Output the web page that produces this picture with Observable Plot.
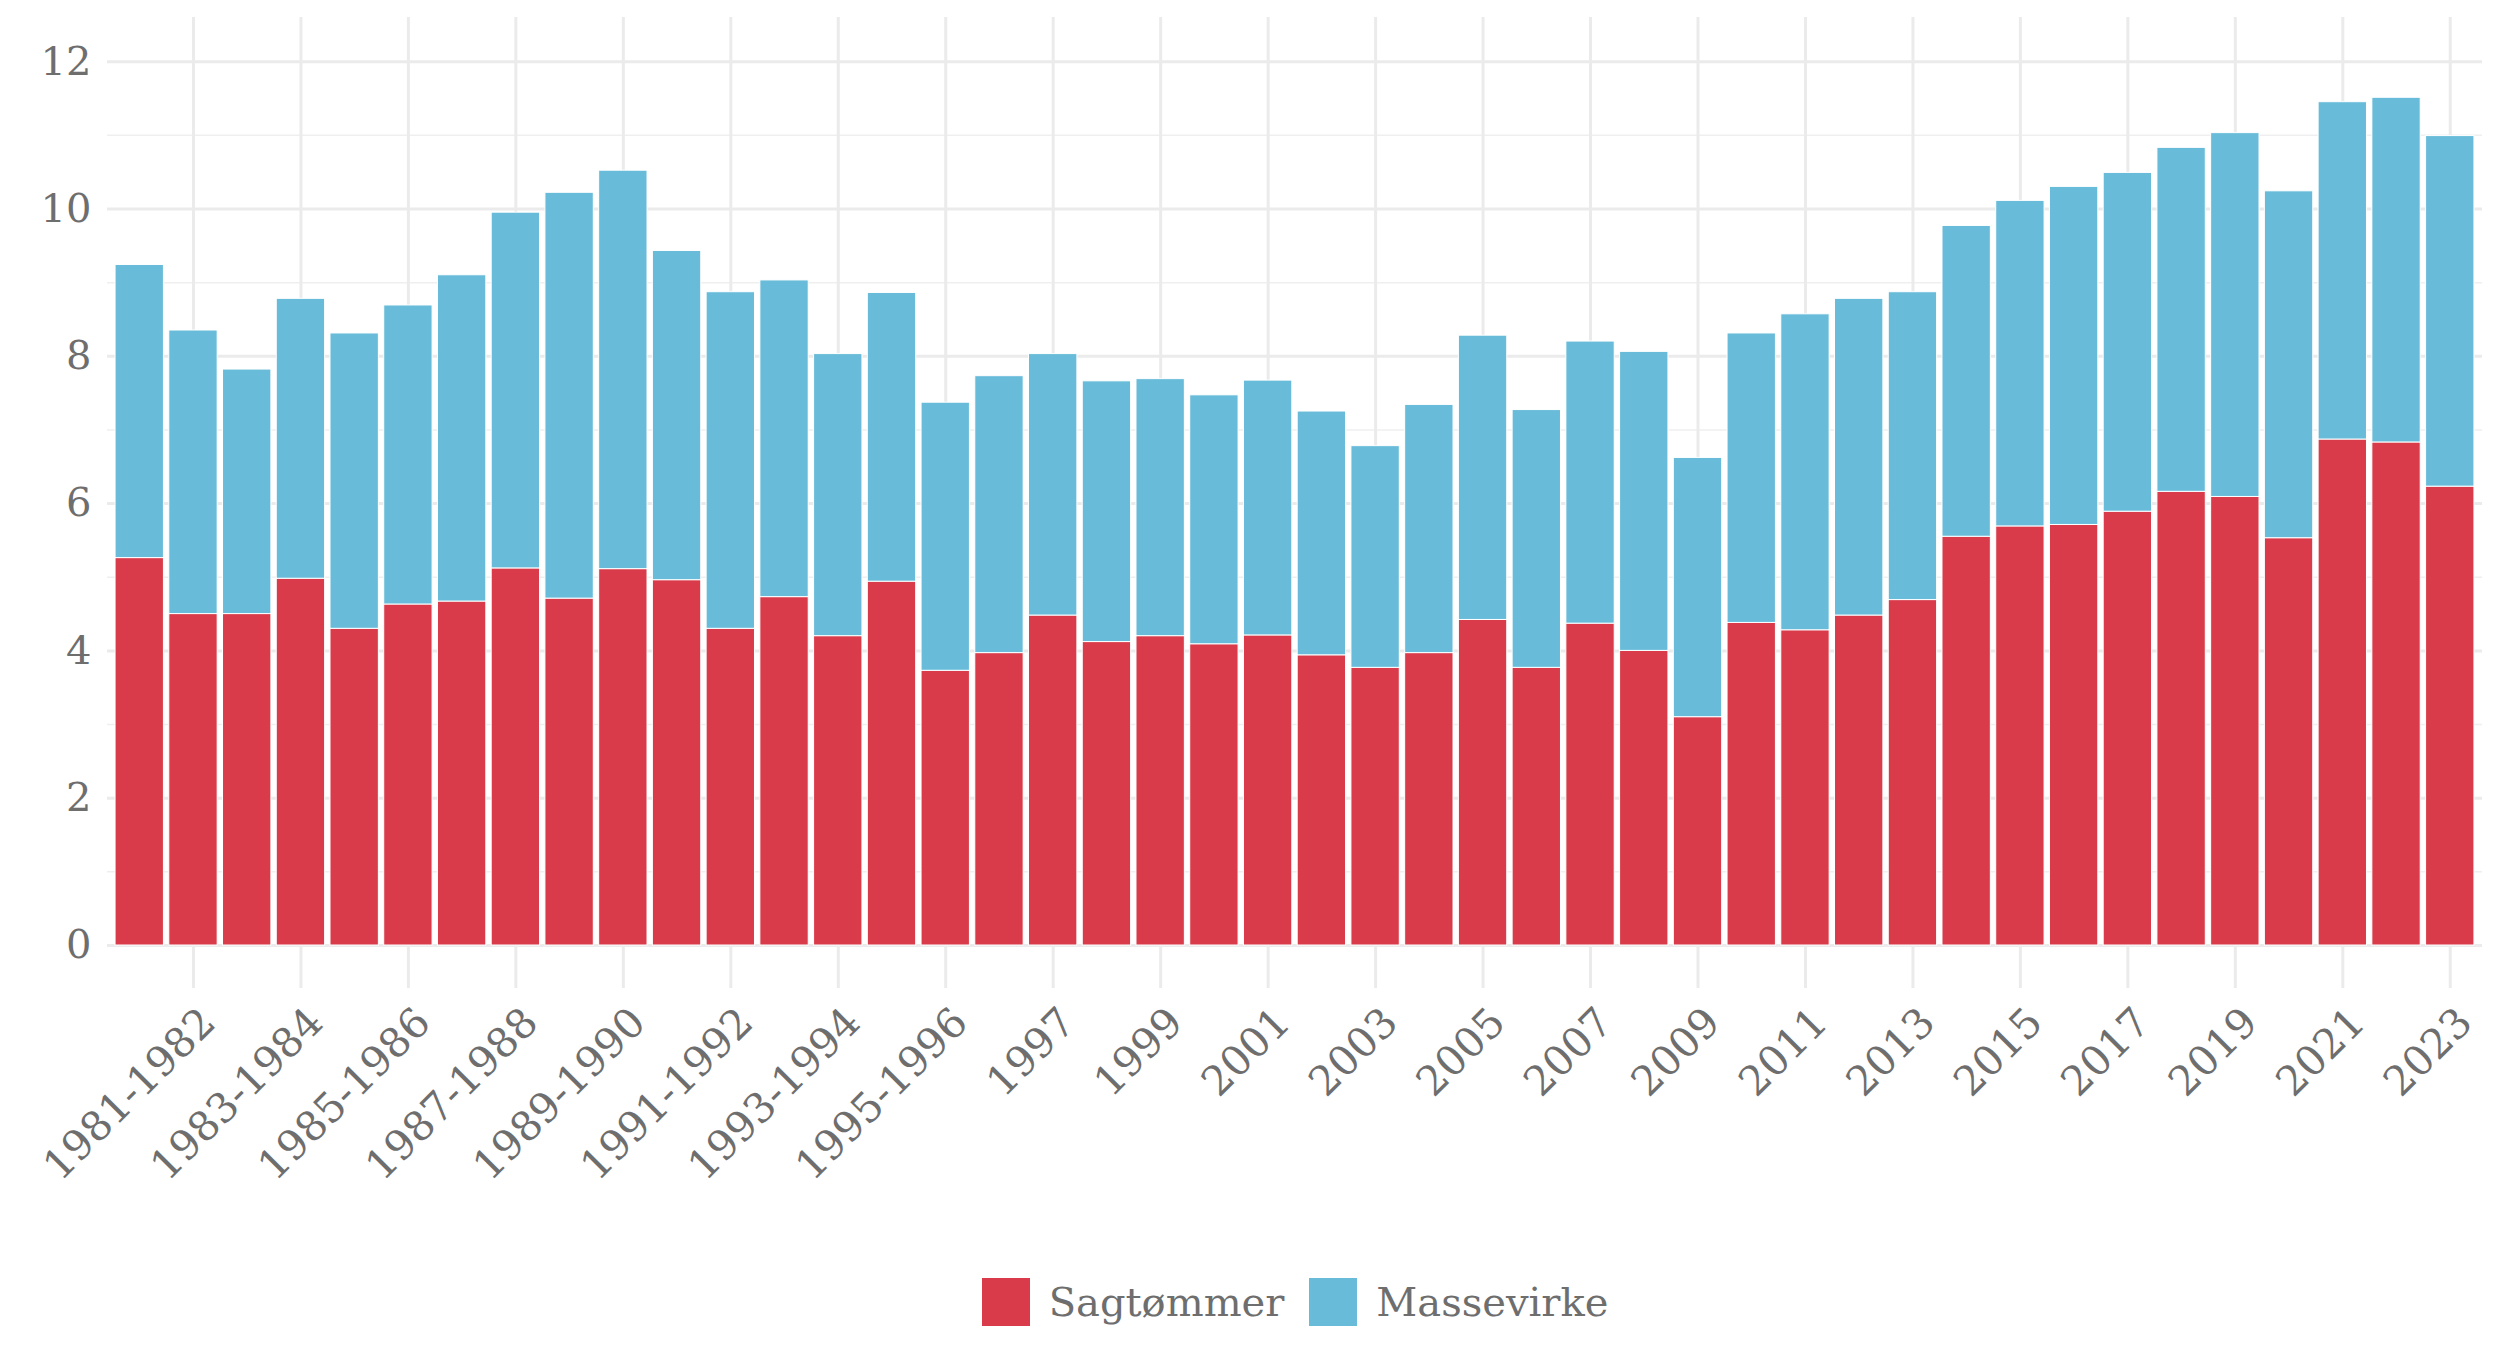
<!DOCTYPE html>
<html>
<head>
<meta charset="utf-8">
<script src="https://cdn.jsdelivr.net/npm/d3@7"></script>
<script src="https://cdn.jsdelivr.net/npm/@observablehq/plot@0.6"></script>
<style>
  html, body { margin: 0; padding: 0; background: #ffffff; }
  #chart svg { display: block; }
  #legend {
    width: 2500px; box-sizing: border-box; padding-left: 90px; margin-top: 38px;
    display: flex; justify-content: center; align-items: center;
    font-family: "DejaVu Serif", serif; font-size: 40px; color: #6e6e6e;
  }
  .item { display: flex; align-items: center; }
  .sw { width: 48px; height: 48px; margin-right: 19px; }
  .item + .item { margin-left: 25px; }
</style>
</head>
<body>
<div id="chart"></div>
<div id="legend"></div>
<script>
const categories = [
  "1980-1981","1981-1982","1982-1983","1983-1984","1984-1985","1985-1986","1986-1987","1987-1988",
  "1988-1989","1989-1990","1990-1991","1991-1992","1992-1993","1993-1994","1994-1995","1995-1996",
  "1996","1997","1998","1999","2000","2001","2002","2003","2004","2005","2006","2007","2008","2009",
  "2010","2011","2012","2013","2014","2015","2016","2017","2018","2019","2020","2021","2022","2023"
];
const sagtommer = [
  5.26,4.50,4.50,4.98,4.30,4.63,4.67,5.12,4.71,5.11,4.96,4.30,4.73,4.20,4.94,3.73,
  3.97,4.48,4.12,4.20,4.09,4.21,3.94,3.77,3.97,4.42,3.77,4.37,4.00,3.10,
  4.38,4.28,4.48,4.69,5.55,5.69,5.71,5.89,6.16,6.09,5.53,6.87,6.83,6.23
];
const massevirke = [
  3.98,3.85,3.32,3.80,4.01,4.06,4.43,4.83,5.51,5.41,4.47,4.57,4.30,3.83,3.92,3.64,
  3.76,3.55,3.54,3.49,3.38,3.46,3.31,3.01,3.37,3.86,3.50,3.83,4.06,3.52,
  3.93,4.29,4.30,4.18,4.22,4.42,4.59,4.60,4.67,4.94,4.71,4.58,4.68,4.76
];
const tickLabels = [
  "1981-1982","1983-1984","1985-1986","1987-1988","1989-1990","1991-1992","1993-1994","1995-1996",
  "1997","1999","2001","2003","2005","2007","2009","2011","2013","2015","2017","2019","2021","2023"
];
const seriesNames = ["Sagtømmer", "Massevirke"];
const seriesColors = ["#d93b4a", "#68bcd9"];
const yMajor = [0, 2, 4, 6, 8, 10, 12];
const yMinor = [1, 3, 5, 7, 9, 11];

const rows = [];
categories.forEach((c, i) => {
  rows.push({cat: c, series: seriesNames[0], value: sagtommer[i]});
  rows.push({cat: c, series: seriesNames[1], value: massevirke[i]});
});

const textColor = "#6e6e6e";
const gridColor = "#ebebeb";

const chart = Plot.plot({
  width: 2500,
  height: 1240,
  marginTop: 17,
  marginBottom: 295,
  marginLeft: 107,
  marginRight: 18,
  style: {fontFamily: "DejaVu Serif, serif", fontSize: "40px", background: "#ffffff"},
  x: {domain: categories, paddingInner: 0.1, paddingOuter: 0.15, label: null},
  y: {domain: [0, 12.6], label: null},
  color: {domain: seriesNames, range: seriesColors},
  marks: [
    Plot.ruleY(yMinor, {stroke: gridColor, strokeWidth: 1.5, strokeOpacity: 0.8}),
    Plot.ruleY(yMajor, {stroke: gridColor, strokeWidth: 3}),
    Plot.gridX(tickLabels, {stroke: gridColor, strokeOpacity: 1, strokeWidth: 3}),
    Plot.axisY(yMajor, {tickSize: 0, tickPadding: 16, fill: textColor, fontSize: 40, label: null, tickFormat: d => String(d)}),
    Plot.axisX(tickLabels, {tickSize: 43, tickPadding: 10, tickRotate: -45, stroke: gridColor, strokeWidth: 3, text: null, label: null}),
    Plot.axisX(tickLabels, {tickSize: 0, tickPadding: 70, dx: 15, tickRotate: -45, fill: textColor, fontSize: 41, label: null}),
    Plot.barY(rows, {x: "cat", y: "value", fill: "series", stroke: "#ffffff", strokeWidth: 1})
  ]
});
document.getElementById("chart").appendChild(chart);

const legend = document.getElementById("legend");
seriesNames.forEach((name, i) => {
  const item = document.createElement("div");
  item.className = "item";
  const sw = document.createElement("div");
  sw.className = "sw";
  sw.style.background = seriesColors[i];
  const label = document.createElement("span");
  label.textContent = name;
  item.appendChild(sw);
  item.appendChild(label);
  legend.appendChild(item);
});
</script>
</body>
</html>
